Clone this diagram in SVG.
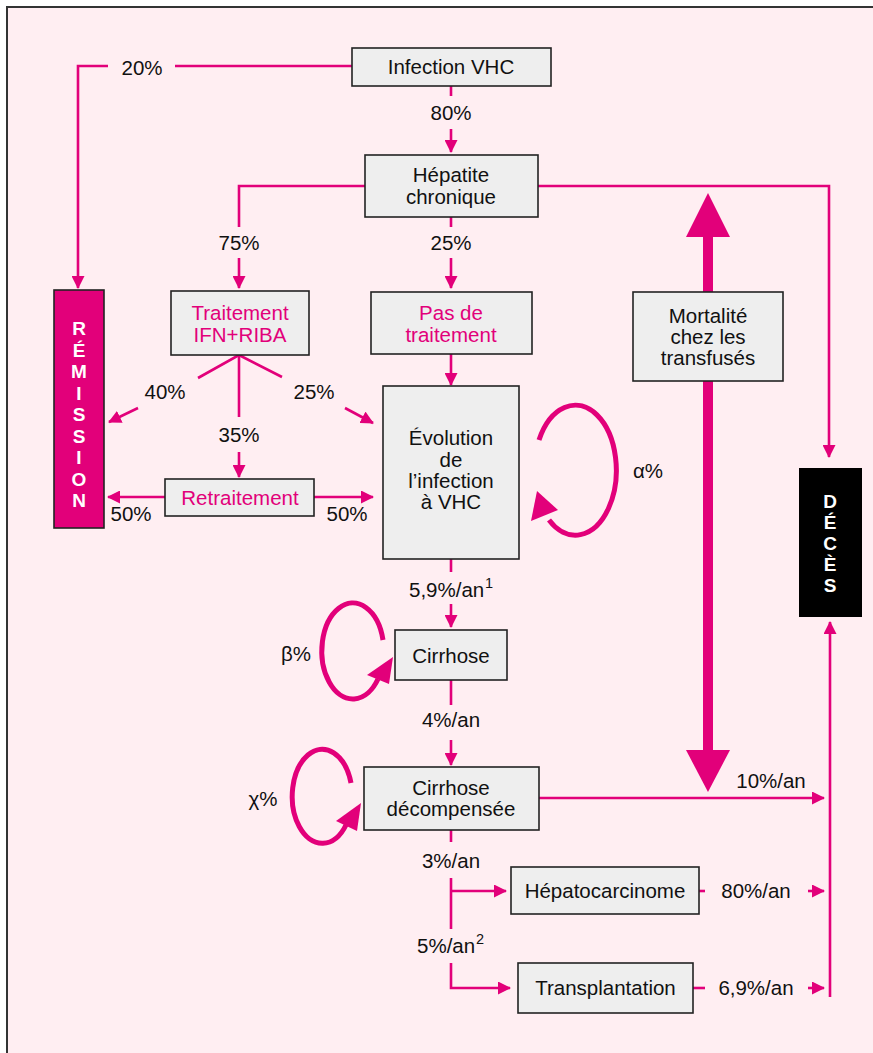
<svg xmlns="http://www.w3.org/2000/svg" width="873" height="1053" viewBox="0 0 873 1053">
<defs>
<style>
text{font-family:"Liberation Sans",Arial,Helvetica,sans-serif;font-size:20.5px;fill:#111;text-anchor:middle}
.box{fill:#EEEEEE;stroke:#222;stroke-width:1.6}
.mg{fill:#E2007A}
.ln{fill:none;stroke:#E2007A;stroke-width:2.6}
.ar{marker-end:url(#ah)}
.loop{fill:none;stroke:#E2007A;stroke-width:5}
.vert{font-weight:bold;fill:#fff;font-size:19px}
.sup{text-anchor:start;font-size:14.5px}
</style>
<marker id="ah" markerUnits="userSpaceOnUse" markerWidth="13" markerHeight="13" refX="12" refY="6.5" orient="auto"><path d="M0,0 L13,6.5 L0,13 z" fill="#E2007A"/></marker>
</defs>
<rect x="0" y="0" width="873" height="1053" fill="#fff"/>
<rect x="7" y="7" width="900" height="1100" fill="#FFEEF2" stroke="#333" stroke-width="2"/>

<g id="connectors">
<polyline class="ln ar" points="108,66 78,66 78,288"/>
<line class="ln" x1="175" y1="66" x2="352" y2="66"/>
<line class="ln" x1="451" y1="86" x2="451" y2="96"/>
<line class="ln ar" x1="451" y1="129" x2="451" y2="152"/>
<polyline class="ln" points="365,186 239,186 239,227"/>
<line class="ln ar" x1="239" y1="258" x2="239" y2="288"/>
<polyline class="ln ar" points="538,186 829,186 829,457"/>
<line class="ln" x1="451" y1="217" x2="451" y2="227"/>
<line class="ln ar" x1="451" y1="258" x2="451" y2="288"/>
<line class="ln ar" x1="451" y1="354" x2="451" y2="385"/>
<polyline class="ln" points="198,378 239,355 282,377"/>
<line class="ln" x1="239" y1="355" x2="239" y2="417"/>
<line class="ln ar" x1="138" y1="408" x2="109" y2="422"/>
<line class="ln ar" x1="345" y1="408" x2="373" y2="423"/>
<line class="ln ar" x1="239" y1="452" x2="239" y2="477"/>
<line class="ln ar" x1="165" y1="497" x2="108" y2="497"/>
<line class="ln ar" x1="314" y1="497" x2="373" y2="497"/>
<line class="ln" x1="451" y1="559" x2="451" y2="572"/>
<line class="ln ar" x1="451" y1="604" x2="451" y2="627"/>
<line class="ln" x1="451" y1="680" x2="451" y2="705"/>
<line class="ln ar" x1="451" y1="740" x2="451" y2="765"/>
<line class="ln ar" x1="539" y1="798" x2="824" y2="798"/>
<line class="ln" x1="451" y1="830" x2="451" y2="842"/>
<line class="ln" x1="451" y1="878" x2="451" y2="929"/>
<line class="ln ar" x1="451" y1="891" x2="506" y2="891"/>
<polyline class="ln ar" points="451,963 451,988 510,988"/>
<line class="ln" x1="699" y1="891" x2="705" y2="891"/>
<line class="ln ar" x1="808" y1="891" x2="824" y2="891"/>
<line class="ln" x1="693" y1="988" x2="705" y2="988"/>
<line class="ln ar" x1="808" y1="988" x2="824" y2="988"/>
<line class="ln ar" x1="830" y1="997" x2="830" y2="622"/>
<rect x="703" y="235" width="10" height="517" fill="#E2007A"/>
<polygon points="708,193 686,237 730,237" fill="#E2007A"/>
<polygon points="708,792 686,750 730,750" fill="#E2007A"/>
<path class="loop" d="M 539 440 A 41 65 0 1 1 549 520"/>
<polygon points="537,491 531,521 558,510" fill="#E2007A"/>
<path class="loop" d="M 383 640 A 31 48 0 1 0 378 679"/>
<polygon points="393,657 367,675 389,684" fill="#E2007A"/>
<path class="loop" d="M 351 783 A 30 47 0 1 0 346 825"/>
<polygon points="361,803 336,821 357,831" fill="#E2007A"/>
</g>

<g id="labels">
<text x="142" y="75">20%</text>
<text x="451" y="120">80%</text>
<text x="239" y="250">75%</text>
<text x="451" y="250">25%</text>
<text x="165" y="399">40%</text>
<text x="314" y="399">25%</text>
<text x="239" y="442">35%</text>
<text x="131" y="521">50%</text>
<text x="347" y="521">50%</text>
<text x="648" y="478">α%</text>
<text x="409" y="597" style="text-anchor:start">5,9%/an</text>
<text class="sup" x="485" y="588">1</text>
<text x="296" y="661">β%</text>
<text x="451" y="727">4%/an</text>
<text x="263" y="806">χ%</text>
<text x="771" y="788">10%/an</text>
<text x="451" y="868">3%/an</text>
<text x="756" y="898">80%/an</text>
<text x="417" y="953" style="text-anchor:start">5%/an</text>
<text class="sup" x="476" y="944">2</text>
<text x="756" y="995">6,9%/an</text>
</g>

<g id="infection"><rect class="box" x="352" y="48" width="199" height="38"/><text x="451" y="74">Infection VHC</text></g>
<g id="hepatite"><rect class="box" x="365" y="155" width="173" height="62"/><text x="451" y="182">Hépatite</text><text x="451" y="204">chronique</text></g>
<g id="traitement"><rect class="box" x="171" y="291" width="138" height="64"/><text class="mg" x="240" y="320">Traitement</text><text class="mg" x="240" y="342">IFN+RIBA</text></g>
<g id="pas-traitement"><rect class="box" x="371" y="292" width="161" height="62"/><text class="mg" x="451" y="320">Pas de</text><text class="mg" x="451" y="342">traitement</text></g>
<g id="mortalite"><rect class="box" x="633" y="292" width="150" height="89"/><text x="708" y="323">Mortalité</text><text x="708" y="344">chez les</text><text x="708" y="365">transfusés</text></g>
<g id="remission"><rect x="54" y="290" width="50" height="238" fill="#E2007A" stroke="#222" stroke-width="1.6"/>
<text class="vert" x="79" y="335">R</text><text class="vert" x="79" y="356.5">É</text><text class="vert" x="79" y="378">M</text><text class="vert" x="79" y="399.5">I</text><text class="vert" x="79" y="421">S</text><text class="vert" x="79" y="442.5">S</text><text class="vert" x="79" y="464">I</text><text class="vert" x="79" y="485.5">O</text><text class="vert" x="79" y="507">N</text></g>
<g id="evolution"><rect class="box" x="383" y="386" width="136" height="173"/><text x="451" y="445">Évolution</text><text x="451" y="467">de</text><text x="451" y="488">l’infection</text><text x="451" y="509">à VHC</text></g>
<g id="retraitement"><rect class="box" x="165" y="479" width="149" height="37"/><text class="mg" x="240" y="505">Retraitement</text></g>
<g id="deces"><rect x="799" y="468" width="63" height="149" fill="#000"/>
<text class="vert" x="830" y="508">D</text><text class="vert" x="830" y="529">É</text><text class="vert" x="830" y="550">C</text><text class="vert" x="830" y="571">È</text><text class="vert" x="830" y="592">S</text></g>
<g id="cirrhose"><rect class="box" x="395" y="630" width="112" height="50"/><text x="451" y="663">Cirrhose</text></g>
<g id="cirrhose-dec"><rect class="box" x="364" y="767" width="175" height="63"/><text x="451" y="795">Cirrhose</text><text x="451" y="816">décompensée</text></g>
<g id="hepatocarcinome"><rect class="box" x="511" y="867" width="188" height="47"/><text x="605" y="898">Hépatocarcinome</text></g>
<g id="transplantation"><rect class="box" x="518" y="963" width="175" height="50"/><text x="605.5" y="995">Transplantation</text></g>
</svg>
